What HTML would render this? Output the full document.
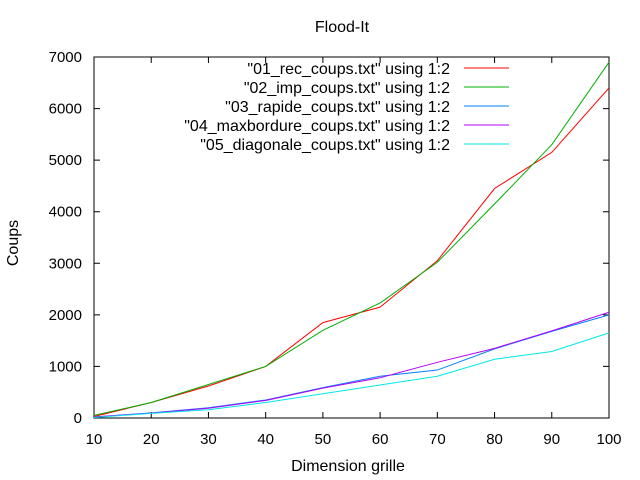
<!DOCTYPE html>
<html><head><meta charset="utf-8"><style>
body{margin:0;background:#fff}
svg{display:block;font-family:"Liberation Sans",sans-serif;font-size:16px}
</style></head><body>
<svg id="c" width="640" height="480">
<text x="342" y="32" text-anchor="middle">Flood-It</text>
<text transform="translate(18,243) rotate(-90)" text-anchor="middle">Coups</text>
<text x="348" y="471" text-anchor="middle">Dimension grille</text>
<g id="axes"></g><g id="series"></g><g id="legend"></g>
</svg>
<script>
const xs=[10,20,30,40,50,60,70,80,90,100];
const rec=[30,300,620,1000,1850,2150,3050,4450,5150,6400];
const imp=[50,300,650,1000,1700,2230,3020,4150,5300,6900];
const rapide=[20,100,200,350,590,810,930,1340,1680,2000];
const maxb=[20,95,190,340,580,780,1080,1350,1690,2050];
const diag=[10,90,160,300,470,640,810,1140,1290,1650];
const xTicks=[10,20,30,40,50,60,70,80,90,100];
const yTicks=[0,1000,2000,3000,4000,5000,6000,7000];
const names=['"01_rec_coups.txt" using 1:2','"02_imp_coups.txt" using 1:2','"03_rapide_coups.txt" using 1:2','"04_maxbordure_coups.txt" using 1:2','"05_diagonale_coups.txt" using 1:2'];
const L=94,R=609,T=57,B=418;
const X=v=>L+(v-10)/90*(R-L), Y=v=>B-v/7000*(B-T);
const NS="http://www.w3.org/2000/svg";
function mk(t,a,p){const e=document.createElementNS(NS,t);for(const k in a)e.setAttribute(k,a[k]);p.appendChild(e);return e;}
const ax=document.getElementById('axes');
const frame=mk('rect',{x:L,y:T,width:R-L,height:B-T,fill:'none',stroke:'#000','stroke-width':1},ax);


xTicks.forEach(v=>{const x=X(v);
 const t=mk('path',{d:`M${x},${B}v-6M${x},${T}v6`,stroke:'#000'},ax);
 
 
 const l=mk('text',{x:x,y:B+26,'text-anchor':'middle','font-size':15},ax);l.textContent=v;
 
 });
yTicks.forEach(v=>{const y=Y(v);
 const t=mk('path',{d:`M${L},${y}h6M${R},${y}h-6`,stroke:'#000'},ax);
 
 
 const l=mk('text',{x:82,y:y+5,'text-anchor':'end','font-size':15},ax);l.textContent=v;
 
 });
const sers=[rec,imp,rapide,maxb,diag];
const cols=['#ff0000','#00b000','#0080ff','#b000ff','#00e8e8'];
const sg=document.getElementById('series'),lg=document.getElementById('legend');
const ly=[68,87,106,125,144];
sers.forEach((s,i)=>{
 const p=mk('polyline',{points:s.map((v,j)=>X(xs[j])+','+Y(v)).join(' '),fill:'none',stroke:cols[i],'stroke-width':1},sg);
 
 
 const t=mk('text',{x:450,y:ly[i]+6,'text-anchor':'end'},lg);t.textContent=names[i];
 
 
 const ln=mk('line',{x1:464,x2:509,y1:ly[i],y2:ly[i],stroke:cols[i]},lg);
 
 
});
</script>
</body></html>
